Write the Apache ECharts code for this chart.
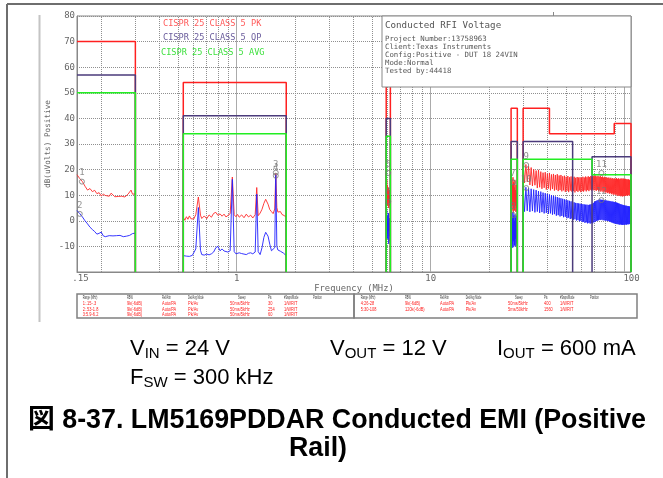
<!DOCTYPE html>
<html><head><meta charset="utf-8">
<script src="https://cdn.jsdelivr.net/npm/echarts@6/dist/echarts.min.js"></script>
<style>html,body{margin:0;padding:0;background:#fff}#c{width:663px;height:478px}</style>
</head><body><div id="c"></div>
<script>
// ---------- DATA ----------
// Range 1: 0.15-0.3 MHz
const r1Freq = [0.150,0.155,0.160,0.165,0.170,0.175,0.180,0.185,0.190,0.195,0.200,0.205,0.210,0.215,0.220,0.225,0.230,0.235,0.240,0.245,0.250,0.255,0.260,0.265,0.270,0.275,0.280,0.285,0.290,0.295,0.300];
const r1Pk = [18.0,16.5,15.3,13.5,12.0,12.6,11.4,11.9,10.6,11.0,9.7,10.4,9.9,10.2,9.6,10.8,11.2,9.4,9.8,9.5,10.0,9.6,10.1,9.3,9.9,10.4,11.0,12.0,10.4,10.8,10.5];
const r1Avg = [4.0,2.8,1.5,0.0,-1.2,-2.5,-3.4,-4.2,-5.2,-4.9,-4.4,-5.9,-6.2,-6.0,-5.8,-6.0,-5.9,-5.7,-5.8,-5.9,-5.7,-5.9,-6.2,-6.8,-6.0,-5.6,-5.7,-5.3,-5.0,-4.9,-4.8];
// Range 2: 0.53-1.8 MHz
const r2Freq = [0.53,0.54,0.55,0.56,0.57,0.58,0.59,0.60,0.615,0.634,0.65,0.66,0.68,0.70,0.72,0.74,0.76,0.78,0.80,0.82,0.84,0.86,0.88,0.90,0.925,0.949,0.97,0.99,1.01,1.03,1.06,1.09,1.12,1.15,1.18,1.21,1.245,1.268,1.29,1.32,1.35,1.38,1.41,1.43,1.45,1.48,1.51,1.54,1.57,1.59,1.61,1.63,1.65,1.68,1.71,1.74,1.77,1.80];
const r2Pk = [1.3,0.2,1.6,0.6,1.9,0.8,1.5,0.7,2.4,9.3,2.2,0.9,1.9,0.8,2.3,1.4,2.9,3.3,2.1,2.7,1.8,2.6,1.5,2.2,2.8,17.1,2.4,1.6,2.5,1.4,2.3,1.2,2.6,1.5,2.2,1.1,2.4,13.0,2.0,3.0,4.5,6.8,8.4,9.0,6.5,4.4,3.6,2.8,4.6,18.5,5.2,3.4,2.9,3.6,2.5,2.9,1.9,1.3];
const r2Avg = [-13.6,-14.1,-13.8,-14.3,-13.9,-14.0,-13.5,-13.7,-11.0,5.2,-11.5,-13.2,-13.4,-13.0,-13.3,-12.9,-12.2,-10.5,-10.0,-11.7,-11.0,-11.8,-12.5,-12.2,-11.7,16.2,-12.0,-12.9,-12.6,-12.5,-12.8,-13.0,-13.2,-12.7,-12.5,-12.9,-12.2,10.4,-12.0,-13.2,-10.5,-6.5,-4.5,-3.9,-6.0,-9.1,-11.7,-11.9,-10.5,18.0,-10.0,-11.4,-11.7,-11.9,-12.1,-12.6,-13.2,-13.6];
// Range 3: 5.9-6.2 MHz
const r3Freq = [5.90,5.92,5.94,5.96,5.98,6.00,6.02,6.04,6.06,6.08,6.10,6.12,6.14,6.16,6.18,6.20];
const r3Pk = [18.5,12,16,9,14,6,11,8,13,5,10,7,12,6,9,8];
const r3Avg = [7.5,-2,4,-5,2,-7,0,-4,3,-9,-1,-6,1,-3,-8,-2];
// Range 4: 26-28 MHz
const r4Freq = [26.0,26.1,26.2,26.3,26.4,26.5,26.6,26.7,26.8,26.9,27.0,27.1,27.2,27.3,27.4,27.5,27.6,27.7,27.8,27.9,28.0];
const r4Pk = [15.0,5,16.5,4,14,6,17,3.5,15,5,13,4,16,6,12,3.5,14,5,11,4,10];
const r4Avg = [2.3,-10,3,-9,1,-10.5,3.5,-8,2,-10,0,-9.5,2.5,-7,1,-10,2,-8.5,0,-9,1];
// Range 5: 30-108 MHz
const r5Freq = [30,30.5,31,31.5,32,32.5,33,33.5,34,34.5,35,35.5,36,36.5,37,37.5,38,38.5,39,39.5,40,40.5,41,41.5,42,42.5,43,43.5,44,44.5,45,45.5,46,46.5,47,47.5,48,48.5,49,49.5,50,50.5,51,51.5,52,52.5,53,53.5,54,54.5,55,55.5,56,56.5,57,57.5,58,58.5,59,59.5,60,60.5,61,61.5,62,62.5,63,63.5,64,64.5,65,65.5,66,66.5,67,67.5,68,68.5,69,69.5,70,70.5,71,71.5,72,72.5,73,73.5,74,74.5,75,75.5,76,76.5,77,77.5,78,78.5,79,79.5,80,80.5,81,81.5,82,82.5,83,83.5,84,84.5,85,85.5,86,86.5,87,87.5,88,88.5,89,89.5,90,90.5,91,91.5,92,92.5,93,93.5,94,94.5,95,95.5,96,96.5,97,97.5,98,98.5,99,99.5,100,100.5,101,101.5,102,102.5,103,103.5,104,104.5,105,105.5,106,106.5,107,107.5,108];
const r5Pk = [22.6,14.8,22.0,15.2,21.3,14.0,20.8,13.6,20.1,13.9,
19.6,12.8,19.9,13.1,19.2,12.5,18.8,12.9,19.0,12.2,
18.4,12.6,18.7,11.9,18.1,12.4,18.3,11.8,17.9,12.1,
18.2,11.6,17.7,12.0,17.9,11.5,17.4,11.9,17.6,11.3,
17.2,11.7,17.5,11.2,17.0,11.8,17.3,11.4,16.9,11.6,
17.2,11.1,16.8,11.7,17.1,11.3,16.9,11.8,17.0,11.2,
16.8,11.6,17.2,11.4,16.9,11.9,17.3,11.5,17.0,12.0,
17.4,11.6,17.1,12.1,17.5,11.8,17.2,12.2,17.6,11.9,
17.4,12.0,17.7,11.7,17.3,12.1,17.6,11.5,17.2,11.9,
17.5,11.4,17.1,11.8,17.3,11.2,16.9,11.6,17.2,11.0,
16.8,11.3,17.0,10.8,16.7,11.1,16.9,10.6,16.5,10.9,
16.8,10.4,16.4,10.7,16.7,10.2,16.3,10.6,16.6,10.1,
16.4,10.4,16.7,9.8,16.3,10.2,16.6,9.7,16.2,10.1,
16.5,9.6,16.3,9.9,16.6,9.5,16.2,9.8,16.5,9.6,
16.3,9.9,16.4,9.7,16.1,10.0,16.3,9.8,16.0,10.1,
16.2,9.9,15.9,10.2,16.1,10.0,15.8];
const r5Avg = [13.5,3.6,13.1,3.9,12.8,3.5,12.5,3.8,12.2,3.3,
12.0,3.6,11.6,3.1,11.4,3.4,11.0,2.9,10.8,3.1,
10.5,2.7,10.3,2.9,10.0,2.4,9.8,2.6,9.5,2.0,
9.3,2.2,9.0,1.7,8.8,1.9,8.6,1.4,8.4,1.6,
8.2,1.0,8.0,1.2,7.8,0.7,7.6,0.9,7.4,0.4,
7.2,0.6,7.0,0.1,6.9,0.3,6.8,-0.2,6.7,0.0,
6.6,-0.5,6.5,-0.3,6.4,-0.8,6.3,-0.6,6.3,-1.0,
6.2,-0.8,6.3,-1.1,6.4,-0.9,6.6,-1.0,7.0,-0.6,
7.4,-0.4,7.7,-0.1,7.9,0.1,8.1,0.2,8.3,0.4,
8.3,0.3,8.2,0.5,8.2,0.2,8.1,0.3,8.0,0.0,
8.0,0.2,7.9,-0.1,7.8,0.0,7.8,-0.3,7.7,-0.4,
7.6,-0.6,7.5,-0.7,7.5,-0.9,7.4,-1.0,7.3,-1.1,
7.3,-1.2,7.1,-1.3,7.0,-1.3,6.8,-1.4,6.7,-1.5,
6.5,-1.4,6.4,-1.5,6.3,-1.6,6.2,-1.5,6.1,-1.6,
6.0,-1.5,5.9,-1.4,5.9,-1.5,5.8,-1.3,5.7,-1.4,
5.7,-1.2,5.6,-1.3,5.5,-1.1,5.5];

// CISPR 25 Class 5 limit lines (null = gap between bands)
const pkLimFreq  = [0.15,0.3,0.3,null,0.53,0.53,1.8,1.8,null,5.9,5.9,6.2,6.2,null,26,26,28,28,null,30,30,41,41,88.5,88.5,108,108];
const pkLimLevel = [70,70,-20,null,-20,54,54,-20,null,-20,53,53,-20,null,-20,44,44,-20,null,-20,44,44,34,34,38,38,-20];
const qpLimFreq  = [0.15,0.3,0.3,null,0.53,0.53,1.8,1.8,null,5.9,5.9,6.2,6.2,null,26,26,28,28,null,30,30,54,54,null,68,68,108,108];
const qpLimLevel = [57,57,-20,null,-20,41,41,-20,null,-20,40,40,-20,null,-20,31,31,-20,null,-20,31,31,-20,null,-20,25,25,-20];
const avgLimFreq  = [0.15,0.3,0.3,null,0.53,0.53,1.8,1.8,null,5.9,5.9,6.2,6.2,null,26,26,28,28,null,30,30,68,68,108,108];
const avgLimLevel = [50,50,-20,null,-20,34,34,-20,null,-20,33,33,-20,null,-20,24,24,-20,null,-20,24,24,18,18,-20];

// Markers
const markerFreq  = [0.159,0.155,1.59,1.59,6.04,6.04,26.6,26.6,31.1,31.1,76,76];
const markerLevel = [15.3,2.7,18.8,17.6,18.7,7.5,15.0,2.3,21.8,12.8,18.7,8.1];
const markerText  = ['1','2','3','4','5','6','7','8','9','10','11','12'];

// Axis ticks
const minorGrid = [0.2,0.3,0.4,0.5,0.6,0.7,0.8,0.9,2,3,4,5,6,7,8,9,20,30,40,50,60,70,80,90];
const xTickLabels = {0.15:'.15', 1:'1', 10:'10', 100:'100'};

// Table
const tableHeader = ['Range (MHz)','RBW','Ref/Attn','Det/Avg Mode','Sweep','Pts','#Swps/Mode','Position'];
const tableRowsLeft = [
  ['1:.15-.3','9k(-6dB)','Auto/PA','Pk/Av','50ms/5kHz','30','1/WRIT'],
  ['2:.53-1.8','9k(-6dB)','Auto/PA','Pk/Av','50ms/5kHz','254','1/WRIT'],
  ['3:5.9-6.2','9k(-6dB)','Auto/PA','Pk/Av','50ms/5kHz','60','1/WRIT']];
const tableRowsRight = [
  ['4:26-28','9k(-6dB)','Auto/PA','Pk/Av','50ms/5kHz','400','1/WRIT'],
  ['5:30-108','120k(-6dB)','Auto/PA','Pk/Av','5ms/50kHz','1560','1/WRIT']];
const infoLines = ['Project Number:13758963','Client:Texas Instruments','Config:Positive - DUT 18 24VIN','Mode:Normal','Tested by:44418'];

// ---------- BUILD ----------
function toPairs(fs, vs){ return fs.map((f,i)=> (f===null||vs[i]===null) ? ['-','-'] : [f, vs[i]]); }
function joinRanges(list){ let out=[]; list.forEach((p,k)=>{ if(k) out.push(['-','-']); out=out.concat(p); }); return out; }
const pkTrace = joinRanges([toPairs(r1Freq,r1Pk),toPairs(r2Freq,r2Pk),toPairs(r3Freq,r3Pk),toPairs(r4Freq,r4Pk),toPairs(r5Freq,r5Pk)]);
const avgTrace = joinRanges([toPairs(r1Freq,r1Avg),toPairs(r2Freq,r2Avg),toPairs(r3Freq,r3Avg),toPairs(r4Freq,r4Avg),toPairs(r5Freq,r5Avg)]);

const mono = 'DejaVu Sans Mono';
const graphics = [];
// frames
graphics.push({type:'line', shape:{x1:7,y1:4,x2:663,y2:4}, style:{stroke:'#6e6e6e', lineWidth:2}, z:100});
graphics.push({type:'line', shape:{x1:7,y1:4,x2:7,y2:478}, style:{stroke:'#6e6e6e', lineWidth:2}, z:100});
graphics.push({type:'line', shape:{x1:39.5,y1:15,x2:39.5,y2:322}, style:{stroke:'#c4c4c4', lineWidth:2}, z:100});
graphics.push({type:'line', shape:{x1:553.5,y1:12,x2:553.5,y2:16}, style:{stroke:'#888', lineWidth:1}, z:100});
// legend texts
[['CISPR 25 CLASS 5 PK','#ff5a5a',163,24],['CISPR 25 CLASS 5 QP','#6a5c9c',163,38],['CISPR 25 CLASS 5 AVG','#3fe03f',161,53]].forEach(t=>{
  graphics.push({type:'text', x:t[2], y:t[3], z:101, style:{text:t[0], fill:t[1], font:'8.6px "'+mono+'"', verticalAlign:'middle'}});
});
// info box
graphics.push({type:'rect', shape:{x:382,y:16,width:249,height:71}, style:{fill:'#fff', stroke:'#888', lineWidth:1}, z:100});
graphics.push({type:'text', x:385, y:26, z:101, style:{text:'Conducted RFI Voltage', fill:'#555', font:'9.2px "'+mono+'"', verticalAlign:'middle'}});
infoLines.forEach((s,i)=>{
  graphics.push({type:'text', x:385, y:38.7+i*8, z:101, style:{text:s, fill:'#555', font:'7.35px "'+mono+'"', verticalAlign:'middle'}});
});
// table boxes
graphics.push({type:'rect', shape:{x:77,y:294,width:277,height:24}, style:{fill:'none', stroke:'#808080', lineWidth:1.5}, z:100});
graphics.push({type:'rect', shape:{x:354,y:294,width:283,height:24}, style:{fill:'none', stroke:'#808080', lineWidth:1.5}, z:100});
const colL = [82.7,127,162,188,230,268,284,313];
const colR = [360.7,405,440,465.7,508,544,560,590];
function addTable(cols, rows, sweepHdrX){
  tableHeader.forEach((h,i)=>{
    const x = (i===4) ? sweepHdrX : cols[i];
    graphics.push({type:'text', x:x, y:297.7, scaleX:0.45, z:101, style:{text:h, fill:'#333', font:'5.5px "Liberation Sans"', verticalAlign:'middle'}});
  });
  rows.forEach((r,ri)=>{
    r.forEach((c,ci)=>{
      graphics.push({type:'text', x:cols[ci], y:303.3+ri*5.7, scaleX:0.72, z:101, style:{text:c, fill:'#ff2020', font:'5.5px "Liberation Sans"', verticalAlign:'middle'}});
    });
  });
}
addTable(colL, tableRowsLeft, 238);
addTable(colR, tableRowsRight, 515);
// caption
const capRich = {
  m:{fontSize:22, fontFamily:'Liberation Sans', fill:'#000', lineHeight:25},
  s:{fontSize:15, fontFamily:'Liberation Sans', fill:'#000', lineHeight:14, verticalAlign:'bottom'}
};
[['{m|V}{s|IN}{m| = 24 V}',130,349],['{m|V}{s|OUT}{m| = 12 V}',330,349],['{m|I}{s|OUT}{m| = 600 mA}',497,349],['{m|F}{s|SW}{m| = 300 kHz}',130,378]].forEach(t=>{
  graphics.push({type:'text', x:t[1], y:t[2], z:101, style:{text:t[0], rich:capRich, verticalAlign:'middle', fill:'#000'}});
});
graphics.push({type:'text', x:337, y:421, z:101, style:{text:'図 8-37. LM5169PDDAR Conducted EMI (Positive', fill:'#000', font:'bold 26.8px "Liberation Sans", "Noto Sans CJK JP"', align:'center', verticalAlign:'middle'}});
graphics.push({type:'text', x:318, y:449, z:101, style:{text:'Rail)', fill:'#000', font:'bold 26.8px "Liberation Sans"', align:'center', verticalAlign:'middle'}});

const chart = echarts.init(document.getElementById('c'), null, {renderer:'canvas'});
chart.setOption({
  animation:false,
  backgroundColor:'#fff',
  grid:{left:77, top:16, right:32, bottom:206, show:true, borderColor:'#888', borderWidth:1},
  xAxis:{
    type:'log', logBase:10, min:0.15, max:108,
    name:'Frequency (MHz)', nameLocation:'middle', nameGap:12, nameMoveOverlap:false,
    nameTextStyle:{color:'#666', fontFamily:mono, fontSize:8.8},
    axisLine:{onZero:false, lineStyle:{color:'#888'}}, axisTick:{show:false},
    axisLabel:{margin:2, color:'#666', fontFamily:mono, fontSize:9,
      formatter:function(v){
        for (const k in xTickLabels){ if (Math.abs(v-Number(k)) < Number(k)*1e-6){
          const s = xTickLabels[k];
          if (s==='.15') return '{a|'+s+'}';
          if (s==='100') return '{b|'+s+'}';
          return s; } }
        return '';
      },
      rich:{a:{padding:[0,0,0,7], color:'#666', fontFamily:mono, fontSize:9}, b:{padding:[0,0,0,14], color:'#666', fontFamily:mono, fontSize:9}}
    },
    splitLine:{show:true, lineStyle:{color:'#ababab', width:1}}
  },
  yAxis:{
    type:'value', min:-20, max:80, interval:10,
    name:'dB(uVolts) Positive', nameLocation:'middle', nameGap:25, nameRotate:90, nameMoveOverlap:false,
    nameTextStyle:{color:'#666', fontFamily:mono, fontSize:7.7},
    axisLine:{show:true, onZero:false, lineStyle:{color:'#888'}}, axisTick:{show:false},
    axisLabel:{margin:2, color:'#666', fontFamily:mono, fontSize:9, formatter:v=> v===-20 ? '' : String(v)},
    splitLine:{show:true, lineStyle:{type:'dotted', color:'#8f8f8f', width:1}}
  },
  graphic: graphics,
  series:[
    {type:'line', data:[[1,'-']], symbol:'none', z:1, silent:true,
      markLine:{silent:true, symbol:['none','none'], z:1, animation:false, label:{show:false},
        lineStyle:{type:'dotted', color:'#8f8f8f', width:1},
        data: minorGrid.map(v=>({xAxis:v}))}},
    {name:'PK', type:'line', data:pkTrace, symbol:'none', lineStyle:{color:'#ff2a2a', width:1, opacity:0.9}, z:2},
    {name:'AVG', type:'line', data:avgTrace, symbol:'none', lineStyle:{color:'#2222ff', width:1, opacity:0.9}, z:3},
    {name:'PK limit', type:'line', data:toPairs(pkLimFreq,pkLimLevel), symbol:'none', lineStyle:{color:'#ff2020', width:1.5}, z:4},
    {name:'QP limit', type:'line', data:toPairs(qpLimFreq,qpLimLevel), symbol:'none', lineStyle:{color:'#4b3b7b', width:1.5}, z:5},
    {name:'AVG limit', type:'line', data:toPairs(avgLimFreq,avgLimLevel), symbol:'none', lineStyle:{color:'#22ee22', width:1.5}, z:6},
    {name:'Markers', type:'scatter', data:markerFreq.map((f,i)=>[f, markerLevel[i]]), symbol:'circle', symbolSize:5,
      itemStyle:{color:'rgba(0,0,0,0)', borderColor:'#777', borderWidth:1}, z:7,
      label:{show:true, position:'top', distance:1, color:'#777', fontFamily:mono, fontSize:9, formatter:p=>markerText[p.dataIndex]}}
  ]
});
</script></body></html>
